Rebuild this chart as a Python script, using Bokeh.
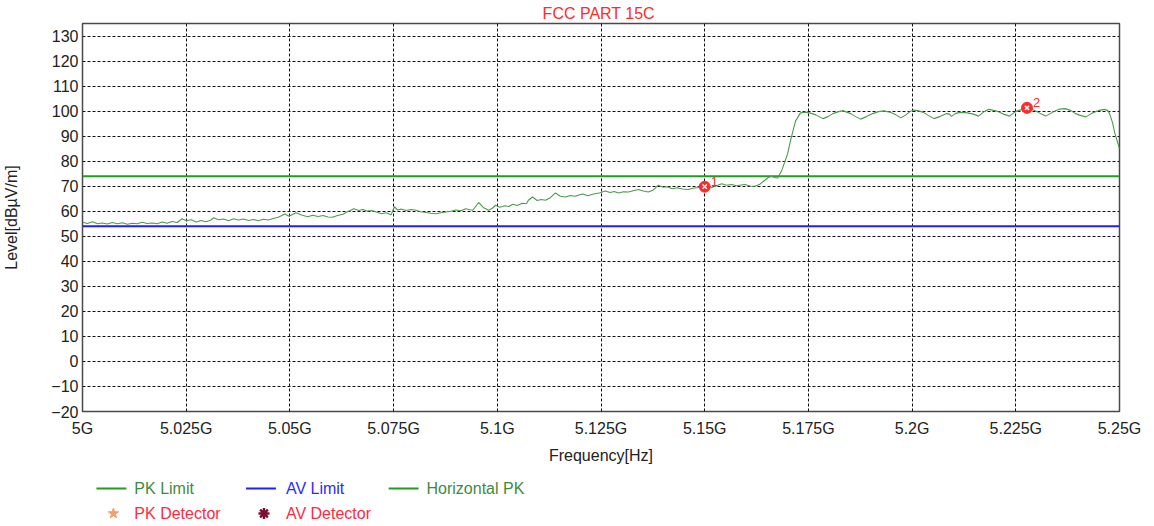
from bokeh.plotting import figure
from bokeh.models import FixedTicker, ColumnDataSource, Range1d
from bokeh.layouts import column
from bokeh.core.properties import value
from bokeh.embed import file_html
from bokeh.resources import INLINE

FONT = "Liberation Sans"

# ---------------- data ----------------
x_ticks = [5000, 5025, 5050, 5075, 5100, 5125, 5150, 5175, 5200, 5225, 5250]
x_tick_labels = ["5G", "5.025G", "5.05G", "5.075G", "5.1G", "5.125G", "5.15G",
                 "5.175G", "5.2G", "5.225G", "5.25G"]
y_ticks = list(range(-20, 131, 10))

pk_limit = 74.0
av_limit = 54.0

freq_mhz = [
    5000.0, 5001.2, 5002.4, 5003.6, 5004.8, 5006.0, 5007.2, 5008.4, 5009.6, 5010.8,
    5012.0, 5013.2, 5014.4, 5015.6, 5016.8, 5018.0, 5019.2, 5020.4, 5021.6, 5022.8,
    5024.0, 5025.0, 5026.2, 5027.4, 5028.6, 5029.8, 5031.0, 5031.6, 5032.8, 5034.0,
    5035.2, 5036.4, 5037.6, 5038.8, 5040.0, 5041.2, 5042.4, 5043.6, 5044.8, 5046.0,
    5047.2, 5048.8, 5049.8, 5051.5, 5052.8, 5054.3, 5055.5, 5056.8, 5058.0, 5059.2,
    5060.2, 5061.5, 5062.8, 5064.0, 5065.4, 5066.6, 5067.6, 5068.5, 5069.8, 5071.0,
    5072.1, 5073.2, 5074.4, 5075.2, 5076.0, 5076.8, 5078.0, 5079.2, 5080.4, 5081.6,
    5082.8, 5084.0, 5085.2, 5086.4, 5087.6, 5088.8, 5090.0, 5091.2, 5092.4, 5093.4,
    5094.1, 5095.5, 5096.6, 5097.9, 5098.8, 5099.6, 5100.6, 5101.8, 5102.8, 5103.7,
    5104.8, 5106.0, 5107.0, 5107.5, 5108.5, 5109.6, 5110.6, 5111.6, 5112.8, 5114.0,
    5115.2, 5116.4, 5117.6, 5118.8, 5119.5, 5120.6, 5121.8, 5123.0, 5123.6, 5124.8,
    5126.0, 5127.2, 5128.2, 5129.2, 5130.4, 5131.6, 5132.8, 5134.0, 5135.2, 5136.4,
    5137.6, 5138.8, 5140.0, 5141.0, 5142.2, 5143.4, 5144.6, 5146.0, 5147.2, 5148.4,
    5149.3, 5150.5, 5151.7, 5152.9, 5154.1, 5155.3, 5156.5, 5157.7, 5158.8, 5159.7,
    5160.9, 5162.1, 5163.3, 5164.5, 5165.4, 5166.2, 5167.0, 5167.6, 5168.6, 5170.0,
    5170.8, 5171.9, 5173.1, 5174.3, 5175.5, 5176.8, 5178.5, 5179.7, 5180.9, 5182.1,
    5183.3, 5185.2, 5186.4, 5187.6, 5189.0, 5190.5, 5191.9, 5193.2, 5194.6, 5196.1,
    5197.3, 5198.5, 5199.4, 5200.2, 5201.4, 5202.7, 5204.0, 5205.3, 5206.8, 5208.3,
    5209.0, 5209.5, 5210.4, 5211.4, 5213.0, 5214.8, 5215.4, 5216.0, 5217.2, 5218.5,
    5219.6, 5220.4, 5222.0, 5223.5, 5224.4, 5225.2, 5226.4, 5227.7, 5229.0, 5230.2,
    5231.2, 5232.2, 5233.3, 5234.4, 5235.6, 5236.9, 5238.2, 5239.4, 5240.7, 5241.9,
    5243.4, 5245.1, 5246.4, 5247.2, 5247.6, 5248.3, 5248.9, 5250.0,
]
level_dbuv = [
    55.6, 55.1, 55.8, 55.0, 55.3, 54.9, 55.5, 55.0, 55.4, 54.8,
    55.2, 55.0, 55.6, 55.1, 55.3, 55.0, 55.7, 55.2, 55.9, 55.5,
    57.0, 56.2, 56.6, 55.7, 56.3, 55.8, 56.5, 57.4, 56.6, 56.9,
    56.2, 57.0, 56.5, 56.9, 56.3, 56.7, 56.2, 56.8, 56.5, 57.1,
    57.6, 58.9, 58.0, 59.4, 58.5, 57.8, 58.4, 57.9, 58.3, 57.7,
    57.6, 58.3, 58.8, 59.9, 61.0, 60.3, 60.7, 60.1, 60.3, 59.6,
    59.0, 59.4, 58.6, 61.8, 60.5, 60.9, 60.3, 60.7, 60.4, 59.8,
    59.5, 59.2, 59.0, 59.4, 59.7, 60.0, 60.5, 60.2, 61.0, 60.6,
    60.4, 63.5, 61.5, 60.4, 61.2, 62.4, 61.6, 62.2, 61.9, 62.8,
    62.3, 63.2, 63.0, 64.4, 65.7, 64.3, 64.7, 64.4, 65.4, 67.3,
    66.0, 65.7, 66.3, 66.0, 66.4, 66.9, 66.2, 66.8, 67.0, 67.4,
    68.1, 67.5, 67.9, 67.3, 67.8, 67.7, 68.2, 68.7, 68.1, 67.7,
    68.5, 70.4, 69.6, 69.8, 69.0, 69.4, 68.9, 68.7, 69.2, 69.5,
    70.0, 70.4, 69.5, 70.2, 71.0, 70.4, 70.7, 70.2, 70.5, 70.7,
    70.1, 70.0, 70.8, 72.4, 73.6, 74.0, 73.4, 73.3, 76.4, 83.0,
    89.0, 96.0, 99.3, 99.6, 99.2, 98.5, 97.0, 97.8, 99.0, 99.7,
    100.2, 99.0, 97.8, 96.8, 97.8, 99.0, 99.8, 100.1, 99.6, 98.5,
    97.3, 98.5, 99.7, 100.4, 100.2, 99.5, 98.2, 97.0, 97.9, 99.0,
    98.8, 97.9, 99.0, 99.5, 99.4, 98.8, 98.4, 98.0, 99.6, 100.7,
    100.3, 100.0, 98.8, 98.0, 99.2, 100.0, 100.6, 101.1, 100.6, 99.7,
    98.8, 98.0, 99.0, 100.0, 100.8, 101.0, 100.3, 99.0, 98.2, 97.7,
    99.2, 100.3, 100.7, 100.2, 99.0, 95.5, 91.0, 85.0,
]

marker_freq = [5150.0, 5227.7]
marker_level = [69.8, 101.3]
marker_labels = ["1", "2"]

legend_labels = ["PK Limit", "AV Limit", "Horizontal PK", "PK Detector", "AV Detector"]

# ---------------- layout constants ----------------
W = 1141
H_MAIN = 466
H_LEG = 58
B_LEFT = 72
B_RIGHT = 22
FS = "16px"

# ---------------- main chart ----------------
p = figure(width=W, height=H_MAIN, x_range=Range1d(5000, 5250), y_range=Range1d(-20, 135),
           output_backend="svg", toolbar_location=None,
           min_border_left=B_LEFT, min_border_right=B_RIGHT, min_border_top=23,
           min_border_bottom=0,
           background_fill_color="white", border_fill_color="white")

p.title.text = "FCC  PART 15C"
p.title.align = "center"
p.title.text_color = "#ff2a2a"
p.title.text_font = FONT
p.title.text_font_size = FS
p.title.text_font_style = "normal"
p.title.standoff = 3

p.outline_line_color = "#4a4a4a"
p.outline_line_width = 1.5

p.xaxis.ticker = FixedTicker(ticks=x_ticks)
p.xaxis.major_label_overrides = {t: l for t, l in zip(x_ticks, x_tick_labels)}
p.yaxis.ticker = FixedTicker(ticks=y_ticks)

for ax in (p.xaxis[0], p.yaxis[0]):
    ax.axis_line_color = None
    ax.major_tick_line_color = None
    ax.minor_tick_line_color = None
    ax.major_tick_out = 0
    ax.major_tick_in = 0
    ax.major_label_text_font = FONT
    ax.major_label_text_font_size = FS
    ax.major_label_text_color = "#222222"
    ax.axis_label_text_font = FONT
    ax.axis_label_text_font_size = FS
    ax.axis_label_text_font_style = "normal"
    ax.axis_label_text_color = "#222222"

p.xaxis.axis_label = "Frequency[Hz]"
p.xaxis.major_label_standoff = 8
p.xaxis.axis_label_standoff = 7
p.yaxis.axis_label = "Level[dBµV/m]"
p.yaxis.major_label_standoff = 4
p.yaxis.axis_label_standoff = 28

p.xgrid.ticker = FixedTicker(ticks=x_ticks)
p.ygrid.ticker = FixedTicker(ticks=y_ticks)
for g in (p.xgrid[0], p.ygrid[0]):
    g.grid_line_color = "#111111"
    g.grid_line_dash = "3 2"
    g.grid_line_width = 1

# limits
p.line(x=[x_ticks[0], x_ticks[-1]], y=[pk_limit, pk_limit], line_color="#1f9e1f", line_width=2)
p.line(x=[x_ticks[0], x_ticks[-1]], y=[av_limit, av_limit], line_color="#1f1fff", line_width=2)

# trace
src = ColumnDataSource(dict(f=freq_mhz, v=level_dbuv))
p.line(x="f", y="v", source=src, line_color="#4e9a4e", line_width=1.1)

# markers
msrc = ColumnDataSource(dict(f=marker_freq, v=marker_level, t=marker_labels))
p.scatter(x="f", y="v", source=msrc, marker="circle", size=11, fill_color="#ff2a2a",
          line_color="#ff2a2a")
p.scatter(x="f", y="v", source=msrc, marker="x", size=6, line_color="white", line_width=1.5)
p.text(x="f", y="v", text="t", source=msrc, x_offset=6, y_offset=-1,
       text_color="#ff2a2a", text_font=value(FONT), text_font_size="13px",
       text_baseline="bottom")

# ---------------- legend strip (screen-like coordinates) ----------------
LEG_TOP = H_MAIN
LEG_BOT = H_MAIN + H_LEG
lg = figure(width=W, height=H_LEG, x_range=Range1d(81, 1121),
            y_range=Range1d(LEG_BOT, LEG_TOP),
            output_backend="svg", toolbar_location=None,
            min_border_left=B_LEFT, min_border_right=B_RIGHT, min_border_top=0,
            min_border_bottom=0)
lg.axis.visible = False
lg.grid.visible = False
lg.outline_line_color = None

row1 = 488
row2 = 513
lg.segment(x0=[95, 245, 388], y0=[row1] * 3, x1=[125, 275, 418], y1=[row1] * 3,
           line_color=["#1f9e1f", "#1f1fff", "#1f9e1f"], line_width=2)
lg.text(x=[133, 285, 426], y=[row1] * 3, text=legend_labels[:3],
        text_color=["#3f8a3f", "#2a2aff", "#3f8a3f"], text_font=value(FONT),
        text_font_size=FS, text_baseline="middle")
lg.scatter(x=[112], y=[row2], marker="star", size=11, fill_color="#f0a070", line_color="#f0a070")
lg.scatter(x=[263], y=[row2], marker="asterisk", size=11, line_color="#7a1030", line_width=2.5)
lg.text(x=[133, 285], y=[row2] * 2, text=legend_labels[3:],
        text_color=["#ff2a40", "#ff2a40"], text_font=value(FONT),
        text_font_size=FS, text_baseline="middle")

layout = column(p, lg, spacing=0)
open("out.html", "w").write(file_html(layout, INLINE))
